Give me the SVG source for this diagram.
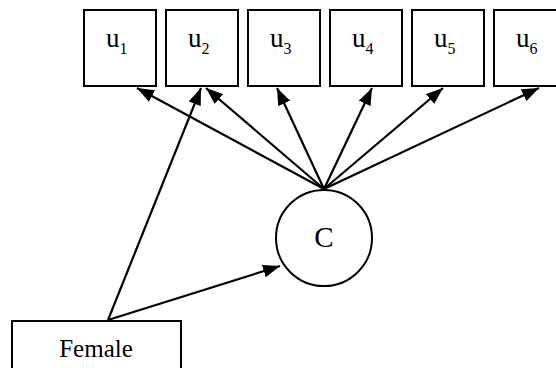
<svg xmlns="http://www.w3.org/2000/svg" width="556" height="368" viewBox="0 0 556 368">
<defs>
<style>
.box{fill:#fff;stroke:#000;stroke-width:2}
.t{font-family:"Liberation Serif",serif;fill:#000}
.e{stroke:#000;stroke-width:2.2;fill:none;marker-end:url(#ah)}
</style>
<marker id="ah" markerUnits="userSpaceOnUse" markerWidth="17" markerHeight="13" viewBox="0 0 17 13" refX="17" refY="6.5" orient="auto">
<path d="M0,0 L17,6.5 L0,13 Z" fill="#000"/>
</marker>
</defs>
<rect width="556" height="368" fill="#fff"/>
<g id="u1"><rect class="box" x="84" y="10" width="72" height="76"/><text class="t" x="106" y="47" font-size="27">u<tspan font-size="16" dy="7">1</tspan></text></g>
<g id="u2"><rect class="box" x="166" y="10" width="72" height="76"/><text class="t" x="188" y="47" font-size="27">u<tspan font-size="16" dy="7">2</tspan></text></g>
<g id="u3"><rect class="box" x="248" y="10" width="72" height="76"/><text class="t" x="270" y="47" font-size="27">u<tspan font-size="16" dy="7">3</tspan></text></g>
<g id="u4"><rect class="box" x="330" y="10" width="72" height="76"/><text class="t" x="352" y="47" font-size="27">u<tspan font-size="16" dy="7">4</tspan></text></g>
<g id="u5"><rect class="box" x="412" y="10" width="72" height="76"/><text class="t" x="434" y="47" font-size="27">u<tspan font-size="16" dy="7">5</tspan></text></g>
<g id="u6"><rect class="box" x="494" y="10" width="72" height="76"/><text class="t" x="516" y="47" font-size="27">u<tspan font-size="16" dy="7">6</tspan></text></g>
<g id="C"><circle class="box" cx="324" cy="238" r="48"/><text class="t" x="324" y="247" font-size="29" text-anchor="middle">C</text></g>
<g id="Female"><rect class="box" x="12" y="321" width="169" height="60"/><text class="t" x="96" y="357" font-size="25" text-anchor="middle">Female</text></g>
<g id="connectors">
<line class="e" x1="324" y1="189" x2="137" y2="88"/>
<line class="e" x1="324" y1="189" x2="206" y2="88"/>
<line class="e" x1="324" y1="189" x2="277" y2="88"/>
<line class="e" x1="324" y1="189" x2="372" y2="88"/>
<line class="e" x1="324" y1="189" x2="443" y2="88"/>
<line class="e" x1="324" y1="189" x2="539" y2="88"/>
<line class="e" x1="108" y1="320" x2="201" y2="88"/>
<line class="e" x1="108" y1="320" x2="280" y2="266"/>
</g>
</svg>
